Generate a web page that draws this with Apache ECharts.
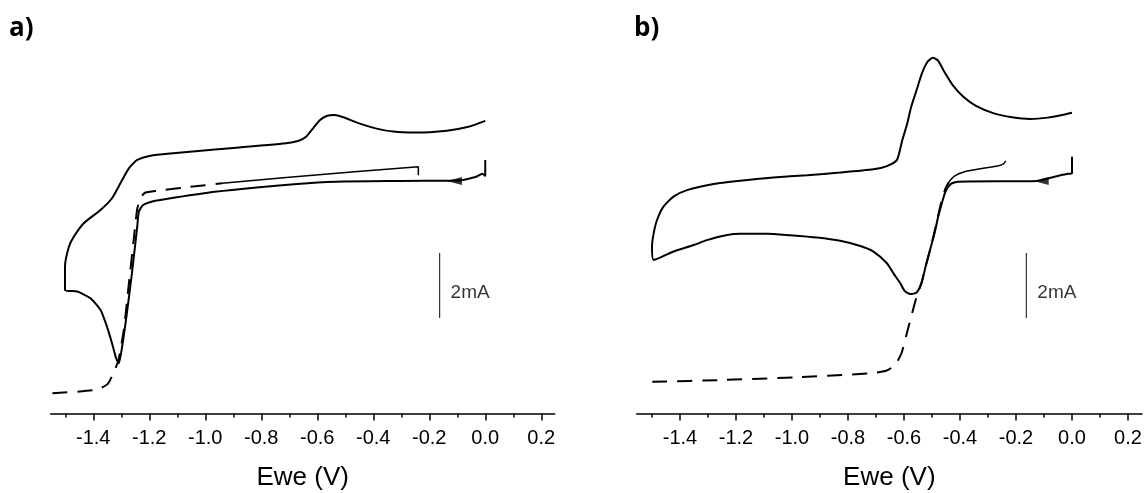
<!DOCTYPE html>
<html><head><meta charset="utf-8">
<script src="https://cdn.jsdelivr.net/npm/echarts@6/dist/echarts.min.js"></script>
<style>html,body{margin:0;padding:0;background:#fff}#c{width:1144px;height:493px}</style>
</head><body><div id="c"></div>
<script>
// Tick values (V)
const majorTicks = [-1.4, -1.2, -1.0, -0.8, -0.6, -0.4, -0.2, 0.0, 0.2];
const minorTicks = [-1.5, -1.3, -1.1, -0.9, -0.7, -0.5, -0.3, -0.1, 0.1];

// Panel a) : cyclic voltammogram [Ewe (V), I (mA)]
const cvA = [[0.000,0.65],[0.000,0.15],[-0.010,0.22],[-0.030,0.14],[-0.050,0.09],[-0.080,0.03],[-0.130,0.01],[-0.300,0.00],[-0.532,-0.02],[-0.672,-0.09],[-0.966,-0.33],[-1.124,-0.53],[-1.186,-0.62],[-1.222,-0.74],[-1.237,-0.94],[-1.243,-1.41],[-1.262,-2.84],[-1.280,-4.07],[-1.297,-5.10],[-1.309,-5.61],[-1.318,-5.46],[-1.333,-4.99],[-1.351,-4.48],[-1.374,-3.97],[-1.410,-3.61],[-1.457,-3.40],[-1.501,-3.35],[-1.501,-2.64],[-1.487,-2.02],[-1.469,-1.71],[-1.434,-1.30],[-1.374,-0.89],[-1.333,-0.53],[-1.303,-0.07],[-1.273,0.39],[-1.243,0.65],[-1.195,0.78],[-1.124,0.85],[-0.966,0.97],[-0.711,1.16],[-0.666,1.24],[-0.640,1.36],[-0.615,1.62],[-0.590,1.88],[-0.564,2.01],[-0.539,2.03],[-0.507,1.96],[-0.456,1.79],[-0.392,1.62],[-0.329,1.52],[-0.251,1.49],[-0.137,1.55],[-0.060,1.67],[0.000,1.85]];
// Panel a) : linear sweep (dashed part, then solid tail)
const lsvA = [[-1.546,-6.53],[-1.393,-6.43],[-1.349,-6.25],[-1.326,-5.87],[-1.310,-5.51],[-1.291,-4.58],[-1.274,-3.25],[-1.257,-1.92],[-1.243,-0.86],[-1.231,-0.52],[-1.215,-0.36],[-1.170,-0.30],[-1.055,-0.18],[-0.940,-0.07]];
const lsvATail = [[-0.940,-0.07],[-0.711,0.11],[-0.456,0.29],[-0.239,0.44],[-0.239,0.18]];

// Panel b)
const cvB = [[0.000,0.75],[0.000,0.24],[-0.015,0.22],[-0.041,0.18],[-0.086,0.08],[-0.125,0.00],[-0.407,-0.02],[-0.433,-0.09],[-0.452,-0.33],[-0.465,-0.69],[-0.478,-1.10],[-0.491,-1.61],[-0.507,-2.12],[-0.523,-2.64],[-0.538,-3.15],[-0.555,-3.43],[-0.577,-3.48],[-0.598,-3.38],[-0.613,-3.15],[-0.637,-2.85],[-0.661,-2.53],[-0.709,-2.17],[-0.756,-2.00],[-0.828,-1.84],[-0.911,-1.74],[-1.006,-1.67],[-1.089,-1.62],[-1.185,-1.62],[-1.232,-1.66],[-1.304,-1.82],[-1.351,-1.97],[-1.423,-2.17],[-1.494,-2.43],[-1.500,-2.02],[-1.494,-1.61],[-1.482,-1.20],[-1.459,-0.79],[-1.423,-0.48],[-1.375,-0.28],[-1.280,-0.09],[-1.185,0.01],[-1.066,0.11],[-0.946,0.18],[-0.828,0.26],[-0.709,0.36],[-0.661,0.46],[-0.625,0.65],[-0.606,1.26],[-0.590,1.72],[-0.574,2.29],[-0.555,2.80],[-0.536,3.31],[-0.516,3.67],[-0.497,3.79],[-0.478,3.70],[-0.456,3.36],[-0.426,2.95],[-0.388,2.59],[-0.343,2.31],[-0.279,2.08],[-0.214,1.96],[-0.150,1.91],[-0.086,1.95],[-0.035,2.03],[0.000,2.10]];
const lsvB = [[-1.499,-6.18],[-1.242,-6.12],[-0.985,-6.04],[-0.728,-5.92],[-0.664,-5.84],[-0.632,-5.66],[-0.609,-5.30],[-0.590,-4.69],[-0.571,-4.07],[-0.555,-3.56],[-0.538,-3.15],[-0.523,-2.64],[-0.504,-2.02],[-0.484,-1.30],[-0.468,-0.69],[-0.452,-0.23],[-0.439,-0.02]];
const lsvBTail = [[-0.439,-0.02],[-0.420,0.15],[-0.381,0.29],[-0.317,0.39],[-0.266,0.46],[-0.246,0.52],[-0.236,0.62]];

// Scan direction arrow and 2 mA scale bar (data coordinates)
const arrowPos = [[-0.11, 0.0]];
const scaleBar = [[-0.163, -2.215], [-0.163, -4.215]];
const scaleLabelPos = [[-0.163, -3.44]];
const scaleLabel = '2mA';

const chart = echarts.init(document.getElementById('c'), null, {renderer: 'canvas'});
const Y_MIN = -7.15, Y_MAX = 5.0;
const FONT = '"Liberation Sans", Arial, sans-serif';

function majorAxis(g, min, max) {
  return {
    type: 'value', gridIndex: g, min: min, max: max, position: 'bottom',
    axisLine: {show: true, onZero: false, lineStyle: {color: '#000', width: 1.5}},
    axisTick: {show: true, customValues: majorTicks, length: 7, lineStyle: {color: '#000', width: 1.5}},
    axisLabel: {show: true, customValues: majorTicks, formatter: v => v.toFixed(1), margin: 15,
      fontSize: 20, fontFamily: FONT, color: '#000'},
    splitLine: {show: false},
    name: 'Ewe (V)', nameLocation: 'middle', nameGap: 51,
    nameTextStyle: {fontSize: 26, fontFamily: FONT, color: '#000'}
  };
}
function minorAxis(g, min, max) {
  return {
    type: 'value', gridIndex: g, min: min, max: max, position: 'bottom',
    axisLine: {show: false, onZero: false},
    axisTick: {show: true, customValues: minorTicks, length: 4, lineStyle: {color: '#000', width: 1.5}},
    axisLabel: {show: false}, splitLine: {show: false}
  };
}
function lineS(xi, yi, data, width, type) {
  return {type: 'line', xAxisIndex: xi, yAxisIndex: yi, data: data, showSymbol: false, symbol: 'none',
    smooth: 0.2, lineStyle: {color: '#000', width: width, type: type || 'solid'}, z: 3, silent: true};
}
function extras(xi, yi) {
  return [
    {type: 'scatter', xAxisIndex: xi, yAxisIndex: yi, data: arrowPos, symbol: 'triangle',
      symbolSize: [8, 15], symbolRotate: 90, itemStyle: {color: '#000'}, z: 4, silent: true},
    {type: 'line', xAxisIndex: xi, yAxisIndex: yi, data: scaleBar, showSymbol: false, symbol: 'none',
      lineStyle: {color: '#333', width: 1.2}, silent: true},
    {type: 'scatter', xAxisIndex: xi, yAxisIndex: yi, data: scaleLabelPos, symbolSize: 0,
      label: {show: true, formatter: scaleLabel, position: 'right', distance: 11, fontSize: 19,
        fontFamily: FONT, color: '#000'}, silent: true}
  ];
}

chart.setOption({
  animation: false,
  backgroundColor: '#fff',
  grid: [
    {left: 50.7, top: 18.5, width: 504, height: 394.9, outerBoundsMode: 'none', containLabel: false},
    {left: 636.7, top: 18.5, width: 505.3, height: 394.9, outerBoundsMode: 'none', containLabel: false}
  ],
  xAxis: [
    majorAxis(0, -1.552, 0.248), minorAxis(0, -1.552, 0.248),
    majorAxis(1, -1.5546, 0.25), minorAxis(1, -1.5546, 0.25)
  ],
  yAxis: [
    {type: 'value', gridIndex: 0, min: Y_MIN, max: Y_MAX, show: false},
    {type: 'value', gridIndex: 1, min: Y_MIN, max: Y_MAX, show: false}
  ],
  series: [
    lineS(0, 0, cvA, 2),
    lineS(0, 0, lsvA, 2, [15, 10]),
    lineS(0, 0, lsvATail, 1.5),
    ...extras(0, 0),
    lineS(2, 1, cvB, 2),
    lineS(2, 1, lsvB, 2, [15, 10]),
    lineS(2, 1, lsvBTail, 1.5),
    ...extras(2, 1)
  ],
  graphic: [
    {type: 'text', left: 9, top: 16, style: {text: 'a)', font: 'bold 26px "Open Sans", sans-serif', fill: '#000'}},
    {type: 'text', left: 634, top: 16, style: {text: 'b)', font: 'bold 26px "Open Sans", sans-serif', fill: '#000'}}
  ]
});
</script></body></html>
